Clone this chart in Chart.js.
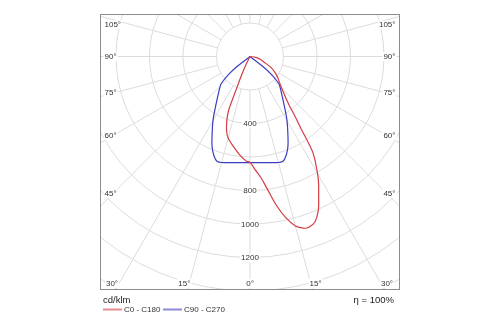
<!DOCTYPE html>
<html>
<head>
<meta charset="utf-8">
<title>Distribución luminosa</title>
<script src="https://cdn.jsdelivr.net/npm/chart.js@4.4.0/dist/chart.umd.min.js"></script>
<style>
  body { margin: 0; background: #ffffff; }
  #polarChart { display: block; }
</style>
</head>
<body>
<canvas id="polarChart" width="500" height="325"></canvas>
<script>
const gammaC0 = [0, 2.5, 5, 7.5, 10, 12.5, 15, 17.5, 19, 21.5, 24, 26, 29, 31, 33, 34, 35, 37, 39, 43, 48, 55, 62, 69, 75, 82, 90];
const intensidadC0 = [632, 675, 722, 800, 900, 985, 1048, 1075, 1078, 1060, 1003, 935, 842, 769, 695, 628, 545, 445, 368, 292, 240, 194, 145, 85, 60, 35, 0];

const gammaC180 = [0, 2, 6, 10.5, 15, 17.3, 19.7, 21.5, 22.1, 22.8, 24.4, 26.6, 30];
const intensidadC180 = [632, 625, 590, 546, 504, 469, 412, 353, 290, 205, 120, 44, 0];

const gammaC90 = [0, 5, 10, 15, 17.5, 19, 21, 23, 25, 30, 35, 40, 45, 47, 50, 52, 53.5];
const intensidadC90 = [634, 636, 643, 655, 655, 642, 615, 580, 537, 442, 356, 295, 252, 232, 170, 100, 0];

// el plano C90 - C270 es simetrico
const gammaC270 = gammaC90;
const intensidadC270 = intensidadC90;

const anillos = [200, 400, 600, 800, 1000, 1200, 1400, 1600];
const etiquetasAnillos = [400, 800, 1000, 1200];
const angulosLaterales = [105, 90, 75, 60, 45];
const angulosInferiores = [30, 15, 0];
const nombresSeries = ['C0 - C180', 'C90 - C270'];
const unidad = 'cd/klm';
const rendimiento = 'η = 100%';

/*
 * Geometria del marco (pixeles del lienzo)
 */
const marco = { left: 100, top: 14, right: 399, bottom: 289 };
const centro = { x: 250, y: 56.5 };
const escala = 33.5 / 200; // pixeles por cd/klm

const fuentePeq = "8px 'Liberation Sans Narrow', 'Liberation Sans', sans-serif";
const fuenteTexto = "9.5px 'Liberation Sans', sans-serif";
const colorRojo = '#d43c44';
const colorAzul = '#3c3cc0';

//pasar de (gamma, intensidad) a x/y, lado -1 = izquierda, 1 = derecha
const aCartesiano = (gammas, valores, lado) => gammas.map((g, i) => {
    const rad = g * Math.PI / 180;
    return { x: lado * valores[i] * Math.sin(rad), y: -valores[i] * Math.cos(rad) };
});

const curva = (gIzq, vIzq, gDer, vDer) =>
    aCartesiano(gIzq, vIzq, -1).reverse().concat(aCartesiano(gDer, vDer, 1).slice(1));

const textoConFondo = (ctx, texto, x, y, align) => {
    const w = ctx.measureText(texto).width;
    let x0 = x - w / 2;
    if (align === 'left') x0 = x;
    if (align === 'right') x0 = x - w;
    ctx.fillStyle = '#ffffff';
    ctx.fillRect(x0 - 1, y - 4.5, w + 2, 9);
    ctx.fillStyle = '#333333';
    ctx.textAlign = align;
    ctx.fillText(texto, x, y);
};

// Plugin para la rejilla polar (anillos, radios y etiquetas)
const rejillaPolar = {
    id: 'rejillaPolar',
    beforeDatasetsDraw(chart) {
        const { ctx, chartArea: a, scales: { x, y } } = chart;
        const cx = x.getPixelForValue(0);
        const cy = y.getPixelForValue(0);
        const px = v => x.getPixelForValue(v) - cx;

        ctx.save();
        ctx.beginPath();
        ctx.rect(a.left, a.top, a.right - a.left, a.bottom - a.top);
        ctx.clip();

        ctx.strokeStyle = '#dcdcdc';
        ctx.lineWidth = 1;
        anillos.forEach(r => {
            ctx.beginPath();
            ctx.arc(cx, cy, px(r), 0, 2 * Math.PI);
            ctx.stroke();
        });

        const r0 = px(anillos[0]);
        const r1 = px(anillos[anillos.length - 1]) + 60;
        for (let g = 0; g < 360; g += 15) {
            const rad = g * Math.PI / 180;
            ctx.beginPath();
            ctx.moveTo(cx + r0 * Math.sin(rad), cy + r0 * Math.cos(rad));
            ctx.lineTo(cx + r1 * Math.sin(rad), cy + r1 * Math.cos(rad));
            ctx.stroke();
        }

        ctx.font = fuentePeq;
        ctx.textBaseline = 'middle';

        etiquetasAnillos.forEach(v => {
            textoConFondo(ctx, String(v), cx, cy + px(v) + 0.5, 'center');
        });

        angulosLaterales.forEach(g => {
            const yy = Math.max(a.top + 11, cy + 137 / Math.tan(g * Math.PI / 180));
            textoConFondo(ctx, g + '°', a.left + 4.5, yy, 'left');
            textoConFondo(ctx, g + '°', a.right - 3.5, yy, 'right');
        });

        const yInf = a.bottom - 5.7;
        angulosInferiores.forEach(g => {
            const d = 245 * Math.tan(g * Math.PI / 180);
            const xi = Math.max(a.left + 12, cx - d);
            const xd = Math.min(a.right - 12, cx + d);
            textoConFondo(ctx, g + '°', xi, yInf, 'center');
            if (g !== 0) textoConFondo(ctx, g + '°', xd, yInf, 'center');
        });

        ctx.restore();
    },
    afterDraw(chart) {
        const { ctx, chartArea: a } = chart;
        ctx.save();
        //marco gris
        ctx.strokeStyle = '#8c8c8c';
        ctx.lineWidth = 1;
        ctx.strokeRect(a.left + 0.5, a.top + 0.5, a.right - a.left, a.bottom - a.top);

        ctx.textBaseline = 'middle';
        ctx.fillStyle = '#222222';
        ctx.font = fuenteTexto;
        ctx.textAlign = 'left';
        ctx.fillText(unidad, a.left + 3, a.bottom + 11.7);
        ctx.textAlign = 'right';
        ctx.fillText(rendimiento, a.right - 5, a.bottom + 11.7);

        //leyenda
        const yLey = a.bottom + 20.5;
        const posiciones = [a.left + 3, a.left + 63];
        chart.data.datasets.forEach((ds, i) => {
            const x0 = posiciones[i];
            ctx.strokeStyle = ds.borderColor;
            ctx.globalAlpha = 0.6;
            ctx.lineWidth = 2;
            ctx.beginPath();
            ctx.moveTo(x0, yLey);
            ctx.lineTo(x0 + 19, yLey);
            ctx.stroke();
            ctx.globalAlpha = 1;
            ctx.font = fuentePeq;
            ctx.textAlign = 'left';
            ctx.fillStyle = '#333333';
            ctx.fillText(ds.label, x0 + 21, yLey);
        });
        ctx.restore();
    }
};

const data = {
    datasets: [{
        label: nombresSeries[0],
        data: curva(gammaC180, intensidadC180, gammaC0, intensidadC0),
        borderColor: colorRojo,
    }, {
        label: nombresSeries[1],
        data: curva(gammaC270, intensidadC270, gammaC90, intensidadC90),
        borderColor: colorAzul,
    }]
};
data.datasets.forEach(ds => {
    ds.showLine = true;
    ds.pointRadius = 0;
    ds.borderWidth = 1.2;
    ds.tension = 0.4;
    ds.fill = false;
});

const options = {
    responsive: false,
    animation: false,
    layout: {
        padding: { left: marco.left, top: marco.top, right: 500 - marco.right, bottom: 325 - marco.bottom }
    },
    plugins: {
        legend: { display: false },
        tooltip: { enabled: false }
    },
    scales: {
        x: {
            type: 'linear', display: false,
            min: -(centro.x - marco.left) / escala,
            max: (marco.right - centro.x) / escala
        },
        y: {
            type: 'linear', display: false,
            min: -(marco.bottom - centro.y) / escala,
            max: (centro.y - marco.top) / escala
        }
    }
};

new Chart('polarChart', {
    type: 'scatter',
    data,
    options,
    plugins: [rejillaPolar]
});
</script>
</body>
</html>
